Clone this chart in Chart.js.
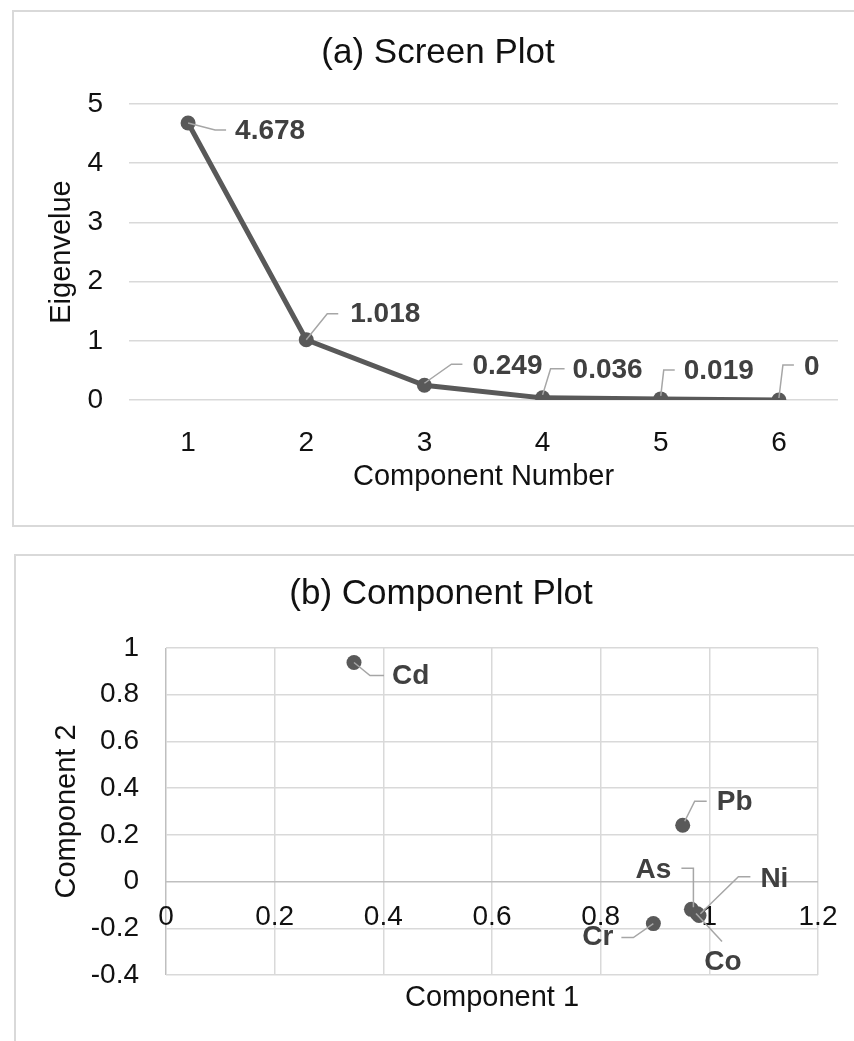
<!DOCTYPE html>
<html>
<head>
<meta charset="utf-8">
<script src="https://cdn.jsdelivr.net/npm/chart.js@4.4.1/dist/chart.umd.min.js"></script>
<style>
  body { margin: 0; background: #fff; overflow: hidden; }
  .box { position: absolute; border: 2px solid #d9d9d9; box-sizing: border-box; }
  canvas { position: absolute; left: 0; }
</style>
</head>
<body>
<div class="box" style="left:12px;top:10px;width:860px;height:517px;"></div>
<div class="box" style="left:14px;top:554px;width:860px;height:600px;"></div>
<canvas id="scree" width="854" height="540" style="top:0"></canvas>
<canvas id="comp" width="854" height="501" style="top:540px"></canvas>
<script>
// (a) scree plot
const componentNumbers = ['1', '2', '3', '4', '5', '6'];
const eigenvalues = [4.678, 1.018, 0.249, 0.036, 0.019, 0];

// (b) component plot
const elements = ['Cd', 'Pb', 'As', 'Ni', 'Co', 'Cr'];
const component1 = [0.346, 0.951, 0.967, 0.978, 0.981, 0.897];
const component2 = [0.938, 0.241, -0.119, -0.138, -0.145, -0.180];

// where each callout sits relative to its point (pixels)
const placesA = [
  {line: [[0,0],[27,7],[38,7]], x: 47, y: 8, align: 'left'},
  {line: [[0,0],[21,-26],[32,-26]], x: 44, y: -25, align: 'left'},
  {line: [[0,-2],[27,-21],[38,-21]], x: 48, y: -19, align: 'left'},
  {line: [[0,-3],[8,-29],[22,-29]], x: 30, y: -28, align: 'left'},
  {line: [[0,-3],[3,-29],[14,-29]], x: 23, y: -28, align: 'left'},
  {line: [[0,-2],[4,-35],[15,-35]], x: 25, y: -33, align: 'left'}
];
const placesB = [
  {line: [[0,0],[16,13],[30,13]], x: 38, y: 14, align: 'left'},
  {line: [[2,-4],[12,-24],[24,-24]], x: 34, y: -23, align: 'left'},
  {line: [[-10,-41],[2,-41],[2,-2]], x: -20, y: -39, align: 'right'},
  {line: [[3,0],[41,-37],[53,-37]], x: 63, y: -35, align: 'left'},
  {line: [[-3,-2],[23,26]], x: 24, y: 47, align: 'center'},
  {line: [[0,0],[-20,14],[-32,14]], x: -40, y: 14, align: 'right'}
];

const FONT = "'Liberation Sans', Arial, sans-serif";
const DARK = '#595959';

// draws the callout labels with their little leader lines
const calloutPlugin = {
  id: 'callouts',
  afterDatasetsDraw(chart, args, opts) {
    const ctx = chart.ctx;
    const pts = chart.getDatasetMeta(0).data;
    ctx.save();
    pts.forEach((p, i) => {
      const pl = opts.places[i];
      ctx.strokeStyle = '#a6a6a6';
      ctx.lineWidth = 1.5;
      ctx.beginPath();
      pl.line.forEach((q, k) => {
        if (k === 0) ctx.moveTo(p.x + q[0], p.y + q[1]);
        else ctx.lineTo(p.x + q[0], p.y + q[1]);
      });
      ctx.stroke();
      ctx.fillStyle = '#404040';
      ctx.font = 'bold 28px ' + FONT;
      ctx.textAlign = pl.align;
      ctx.textBaseline = 'middle';
      ctx.fillText(opts.texts[i], p.x + pl.x, p.y + pl.y);
    });
    ctx.restore();
  }
};

const tickFont = {family: FONT, size: 28};
const titleFont = {family: FONT, size: 29};
const gridColor = c => Math.abs(c.tick.value) < 1e-9 ? '#bfbfbf' : '#d9d9d9';
const fmt = v => String(Math.round(v * 10) / 10 || 0);

new Chart(document.getElementById('scree'), {
  type: 'line',
  data: {
    labels: componentNumbers,
    datasets: [{
      data: eigenvalues,
      borderColor: DARK,
      backgroundColor: DARK,
      borderWidth: 5,
      pointRadius: 7.5,
      pointBorderWidth: 0,
      tension: 0
    }]
  },
  options: {
    responsive: false,
    animation: false,
    layout: {padding: {left: 38, right: 16, top: 0, bottom: 0}},
    plugins: {
      legend: {display: false},
      tooltip: {enabled: false},
      title: {
        display: true,
        text: '(a) Screen Plot',
        color: '#111',
        font: {family: FONT, size: 35, weight: 'normal'},
        padding: {top: 32, bottom: 30}
      },
      callouts: {texts: eigenvalues.map(String), places: placesA}
    },
    scales: {
      x: {
        offset: true,
        grid: {display: false},
        border: {display: false},
        ticks: {color: '#111', font: tickFont, padding: 18, maxRotation: 0},
        title: {display: true, text: 'Component Number', color: '#111', font: titleFont, padding: {top: 0, bottom: 45.6}},
        afterFit(s) { s.height = 140; }
      },
      y: {
        min: 0, max: 5,
        ticks: {stepSize: 1, color: '#111', font: tickFont, padding: 26},
        grid: {color: '#d9d9d9', lineWidth: 1.5, drawTicks: false},
        border: {display: false},
        title: {display: true, text: 'Eigenvelue', color: '#111', font: titleFont, padding: {top: 6.6, bottom: 0}},
        afterFit(s) { s.width = 91; }
      }
    }
  },
  plugins: [calloutPlugin]
});

new Chart(document.getElementById('comp'), {
  type: 'scatter',
  data: {
    datasets: [{
      data: elements.map((e, i) => ({x: component1[i], y: component2[i]})),
      backgroundColor: DARK,
      borderWidth: 0,
      pointRadius: 7.5
    }]
  },
  options: {
    responsive: false,
    animation: false,
    layout: {padding: {left: 64, right: 36, top: 0, bottom: 0}},
    plugins: {
      legend: {display: false},
      tooltip: {enabled: false},
      title: {
        display: true,
        text: '(b) Component Plot',
        color: '#111',
        font: {family: FONT, size: 35, weight: 'normal'},
        padding: {top: 33, bottom: 33}
      },
      callouts: {texts: elements, places: placesB}
    },
    scales: {
      x: {
        type: 'linear',
        min: 0, max: 1.2,
        // labels sit just under the zero line, as in the original
        ticks: {stepSize: 0.2, color: '#111', font: tickFont, mirror: true, padding: 41, maxRotation: 0, callback: fmt},
        grid: {color: gridColor, lineWidth: 1.5, drawTicks: false},
        border: {display: false},
        title: {display: true, text: 'Component 1', color: '#111', font: titleFont, padding: {top: 0, bottom: 25.6}},
        afterFit(s) { s.height = 66; s.paddingLeft = 0; s.paddingRight = 0; }
      },
      y: {
        min: -0.4, max: 1,
        ticks: {stepSize: 0.2, color: '#111', font: tickFont, padding: 27, callback: fmt},
        grid: {color: gridColor, lineWidth: 1.5, drawTicks: false},
        border: {display: false},
        title: {display: true, text: 'Component 2', color: '#111', font: titleFont, padding: {top: -14.4, bottom: 0}},
        afterFit(s) { s.width = 102; }
      }
    }
  },
  plugins: [calloutPlugin]
});
</script>
</body>
</html>
